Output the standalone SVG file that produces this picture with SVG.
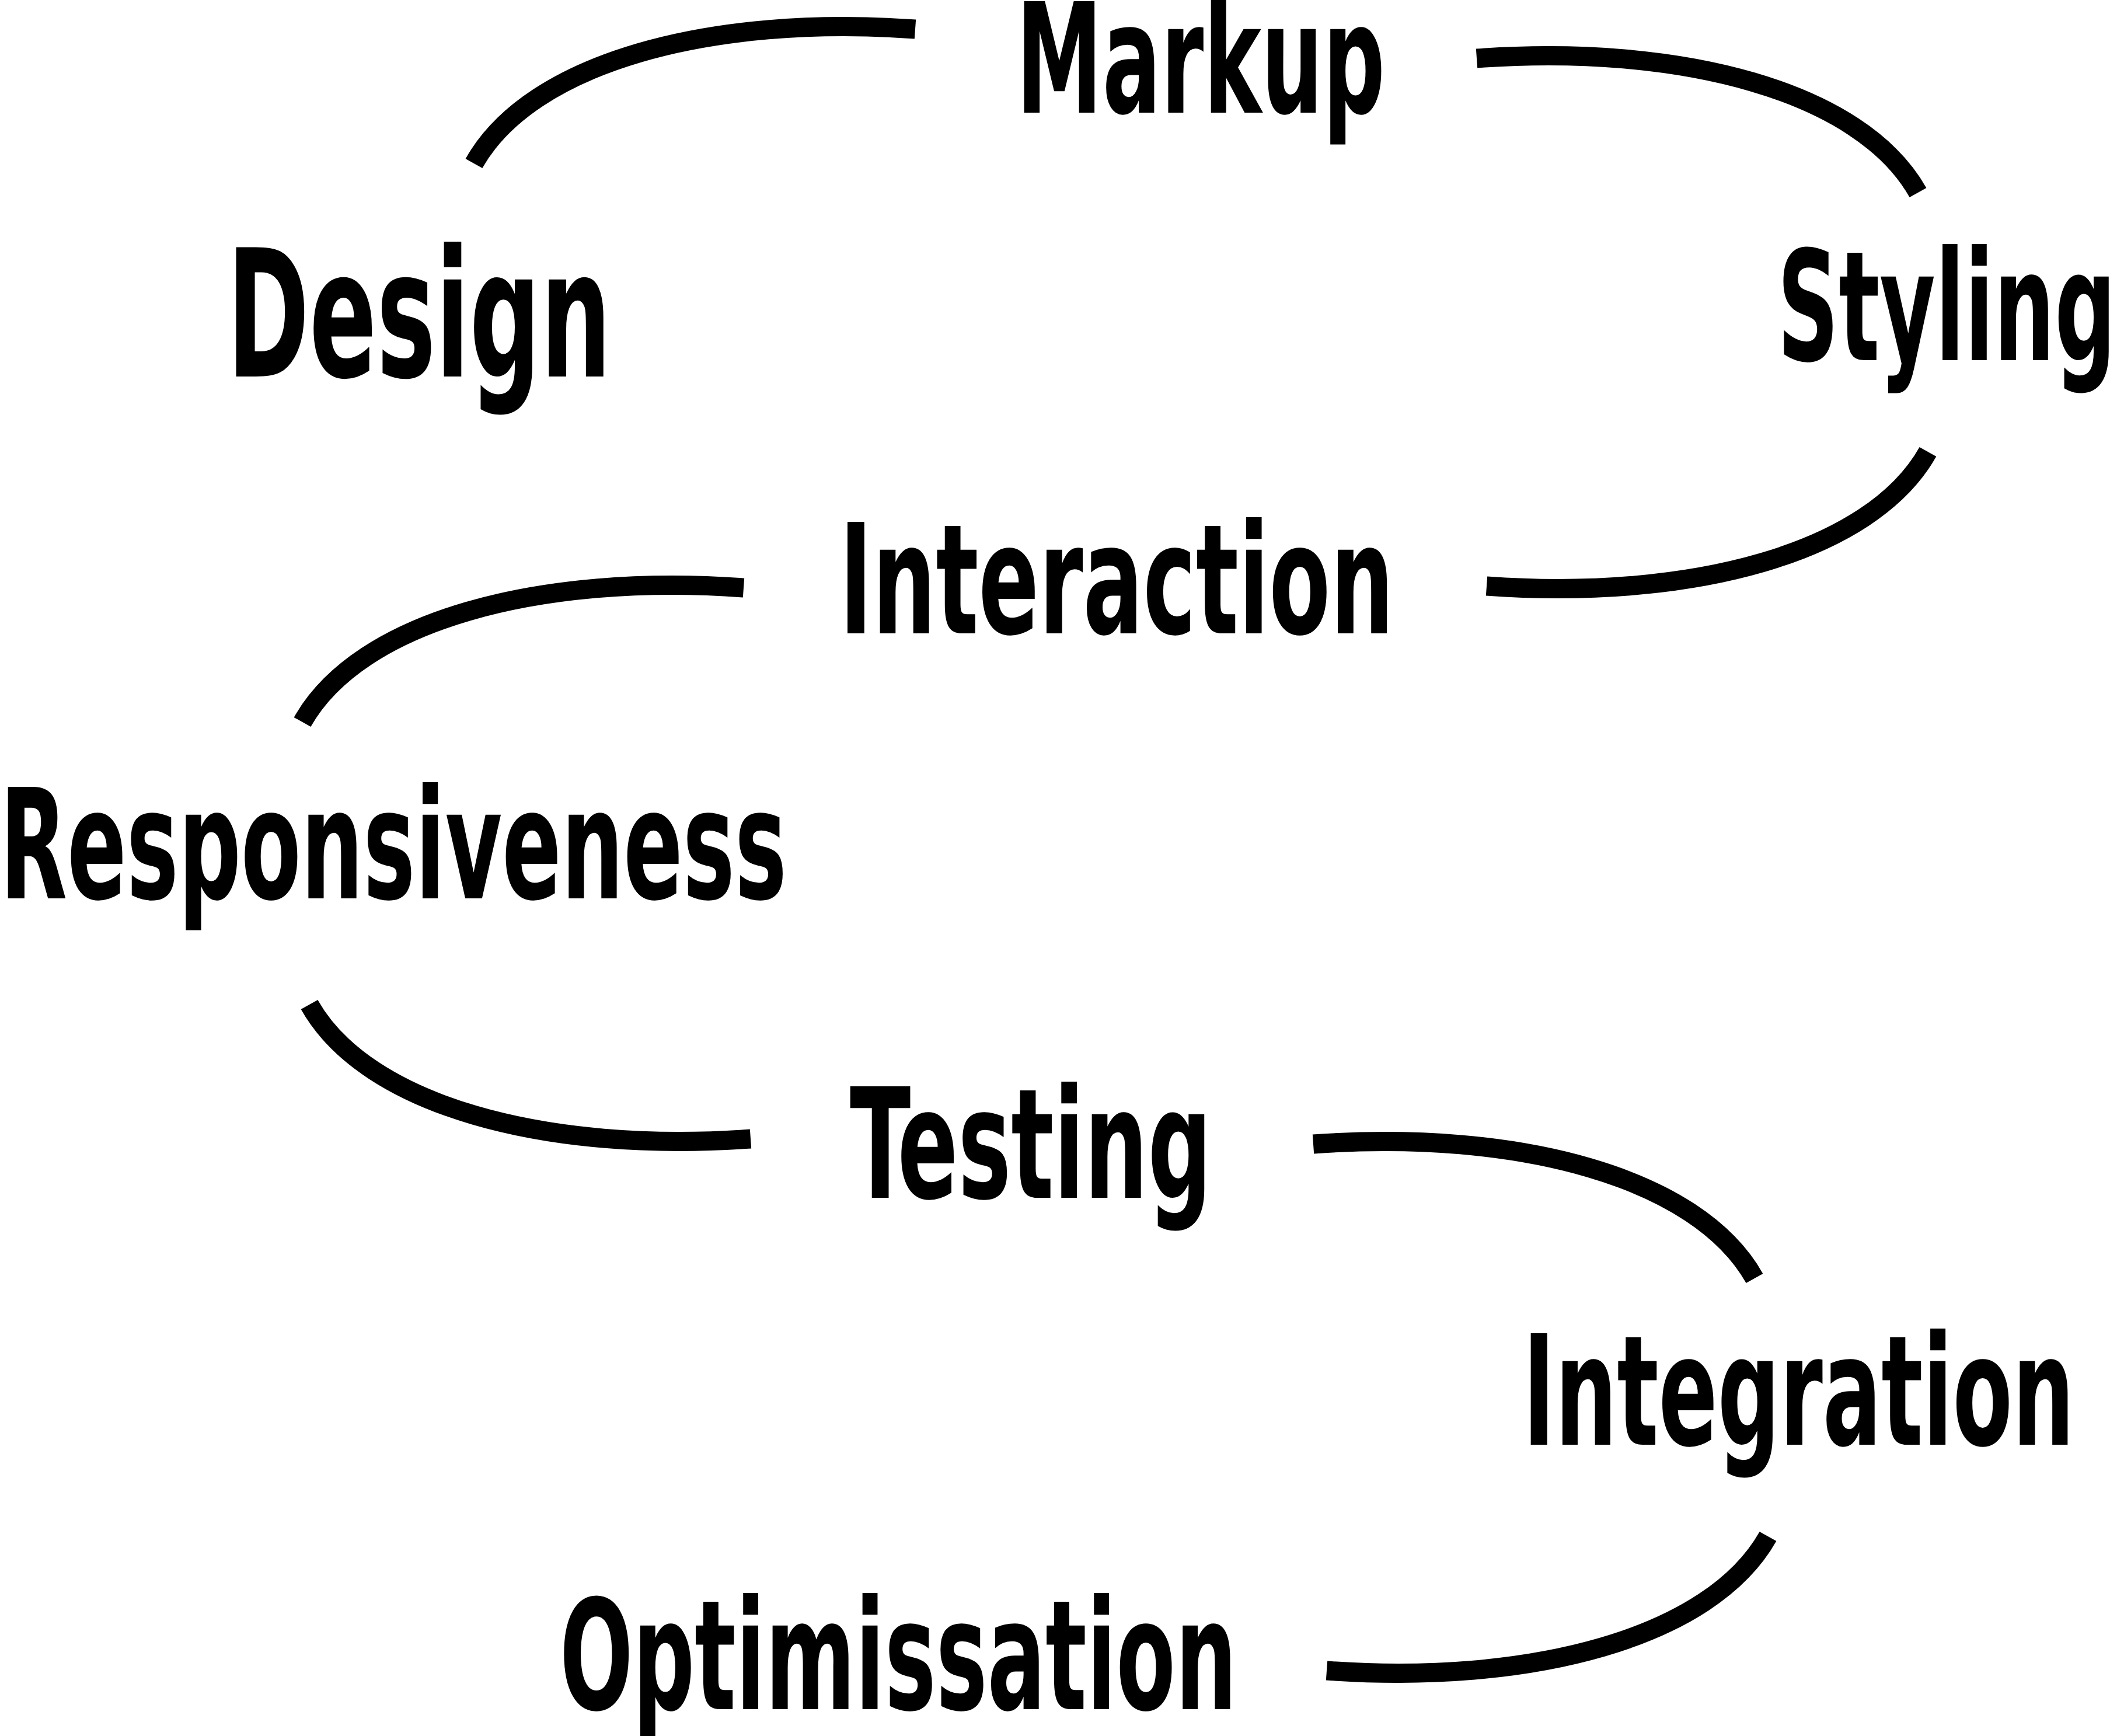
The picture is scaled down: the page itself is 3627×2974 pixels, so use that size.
<svg xmlns="http://www.w3.org/2000/svg" width="3627" height="2974" viewBox="0 0 3627 2974">
<style>
.lbl{font-family:"DejaVu Sans Condensed","DejaVu Sans","Liberation Sans",sans-serif;font-weight:bold;font-size:262px;fill:#000}
.big{font-size:304px}
.arc{fill:none;stroke:#000;stroke-width:33;stroke-linecap:butt}
</style>
<rect width="3627" height="2974" fill="#fff"/>
<g id="connectors">
<path class="arc" d="M812,280 c98,-174 406,-255 756,-230"/>
<path class="arc" d="M2530,100 c350,-25 658,56 756,230"/>
<path class="arc" d="M2547,1004 c350,25 658,-56 756,-230"/>
<path class="arc" d="M518,1237 c98,-174 406,-255 756,-230"/>
<path class="arc" d="M530,1721 c98,174 406,255 756,230"/>
<path class="arc" d="M2250,1960 c350,-25 658,56 756,230"/>
<path class="arc" d="M2273,2862 c350,25 658,-56 756,-230"/>
</g>
<g id="markup"><text class="lbl" x="1741" y="193" textLength="632" lengthAdjust="spacingAndGlyphs">Markup</text></g>
<g id="design"><text class="lbl big" x="389" y="645" textLength="658" lengthAdjust="spacingAndGlyphs">Design</text></g>
<g id="styling"><text class="lbl" x="3045" y="617" textLength="580" lengthAdjust="spacingAndGlyphs">Styling</text></g>
<g id="interaction"><text class="lbl" x="1438" y="1085" textLength="950" lengthAdjust="spacingAndGlyphs">Interaction</text></g>
<g id="responsiveness"><text class="lbl" x="0" y="1539" textLength="1348" lengthAdjust="spacingAndGlyphs">Responsiveness</text></g>
<g id="testing"><text class="lbl" x="1456" y="2052" textLength="620" lengthAdjust="spacingAndGlyphs">Testing</text></g>
<g id="integration"><text class="lbl" x="2609" y="2475" textLength="945" lengthAdjust="spacingAndGlyphs">Integration</text></g>
<g id="optimissation"><text class="lbl" x="959" y="2928" textLength="1160" lengthAdjust="spacingAndGlyphs">Optimissation</text></g>
</svg>
